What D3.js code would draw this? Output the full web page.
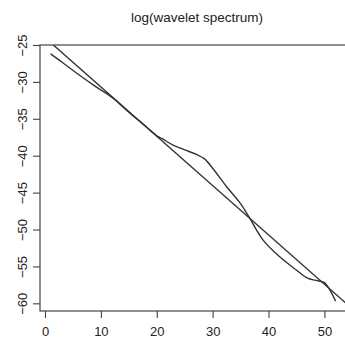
<!DOCTYPE html>
<html><head><meta charset="utf-8">
<script src="https://cdn.jsdelivr.net/npm/d3@7"></script>
<style>body{margin:0;background:#fff}svg{display:block}</style>
</head><body>
<script>
const titleText = "log(wavelet spectrum)";
const xTicks = [0, 10, 20, 30, 40, 50];
const yTicks = [-25, -30, -35, -40, -45, -50, -55, -60];
const specX = [1, 3, 6, 9, 12, 15, 18, 20, 21, 23, 25, 27, 28.5, 30, 32.5, 35, 36.5, 39, 42, 45, 47, 48.5, 50, 51, 52];
const specY = [-26.2, -27.3, -29.0, -30.6, -32.1, -34.1, -36.0, -37.3, -37.7, -38.6, -39.2, -39.8, -40.4, -41.7, -44.2, -46.5, -48.3, -51.4, -53.7, -55.5, -56.6, -56.9, -57.2, -58.2, -59.7];
const fitIntercept = -24.0;
const fitSlope = -0.668;

const W = 345, H = 338;
const L = 40, R = 354, T = 45, B = 311;
const svg = d3.select("body").append("svg").attr("width", W).attr("height", H);
const x = d3.scaleLinear().domain([-0.895, 55.3]).range([L, R]);
const y = d3.scaleLinear().domain([-61.04, -25]).range([B, T]);

svg.append("defs").append("clipPath").attr("id", "clip")
  .append("rect").attr("x", L).attr("y", T).attr("width", R - L).attr("height", B - T);

const g = svg.append("g").attr("clip-path", "url(#clip)");
const xd = x.domain();
const fit = xd.map(v => [v, fitIntercept + fitSlope * v]);
g.append("path").datum(fit)
  .attr("d", d3.line().x(d => x(d[0])).y(d => y(d[1])))
  .attr("fill", "none").attr("stroke", "#333").attr("stroke-width", 1.4);
const spec = specX.map((v, i) => [v, specY[i]]);
g.append("path").datum(spec)
  .attr("d", d3.line().x(d => x(d[0])).y(d => y(d[1])).curve(d3.curveCatmullRom))
  .attr("fill", "none").attr("stroke", "#333").attr("stroke-width", 1.4);

svg.append("rect").attr("x", L).attr("y", T).attr("width", R - L).attr("height", B - T)
  .attr("fill", "none").attr("stroke", "#444").attr("stroke-width", 1.2);

const xAxis = d3.axisBottom(x).tickValues(xTicks).tickSize(7).tickPadding(9);
const xa = svg.append("g").attr("transform", `translate(0,${B})`).call(xAxis);
xa.select(".domain").remove();
const yAxis = d3.axisLeft(y).tickValues(yTicks).tickSize(7).tickFormat(d3.format("d"));
const ya = svg.append("g").attr("transform", `translate(${L},0)`).call(yAxis);
ya.select(".domain").remove();
ya.selectAll(".tick text").attr("transform", "rotate(-90)")
  .attr("x", 0).attr("y", -13).attr("dy", "0").attr("text-anchor", "middle");
svg.selectAll(".tick line").attr("stroke", "#444").attr("stroke-width", 1.1);
svg.selectAll(".tick text").attr("font-family", "Liberation Sans, Arial, sans-serif")
  .attr("font-size", 13).attr("fill", "#222");

svg.append("text").attr("x", (L + R) / 2).attr("y", 22).attr("text-anchor", "middle")
  .attr("font-family", "Liberation Sans, Arial, sans-serif").attr("font-size", 13.5)
  .attr("fill", "#222").text(titleText);
</script>
</body></html>
